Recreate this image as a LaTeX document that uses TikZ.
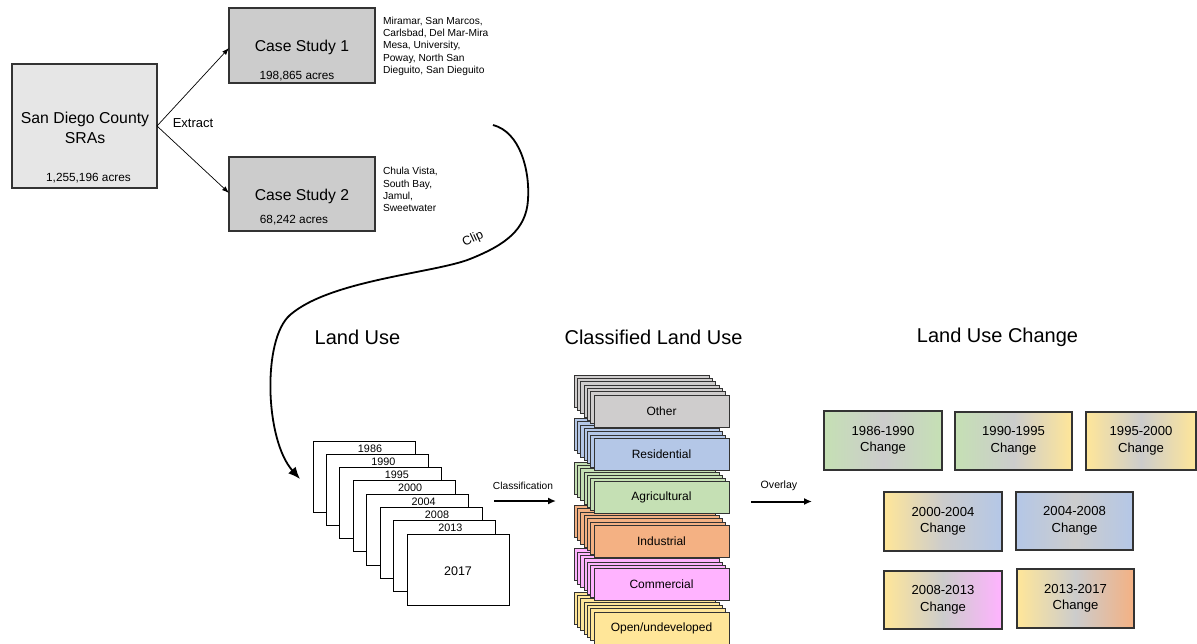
\documentclass[tikz,border=0pt]{standalone}
\usepackage{fontspec}
\setmainfont{Liberation Sans}
\usetikzlibrary{arrows.meta}
\definecolor{cOther}{HTML}{CFCDCD}
\definecolor{cRes}{HTML}{B4C7E7}
\definecolor{cAgr}{HTML}{C5E0B4}
\definecolor{cInd}{HTML}{F4B183}
\definecolor{cCom}{HTML}{FFB3FF}
\definecolor{cOpen}{HTML}{FFE699}
\definecolor{cMid}{HTML}{CCCCCC}
\definecolor{cSDC}{HTML}{E6E6E6}
\definecolor{cCase}{HTML}{CCCCCC}
\definecolor{cEdge}{HTML}{333333}
\newcommand{\fsz}[2]{\fontsize{#1pt}{#2pt}\selectfont}
\newcommand{\clsgroup}[4]{%
  \pgfmathsetmacro{\clsTop}{395+43.4*#1}%
  \foreach \j in {6,5,4,3,2,1}{%
    \node[clsback, fill=#2] (#3-back\j) at ({594-3.33*\j},{\clsTop-3.33*\j}) {};
  }%
  \node[clsfront, fill=#2] (#3) at (594,\clsTop) {#4};
}
\begin{document}
\begin{tikzpicture}[x=1pt,y=-1pt,
  every node/.style={inner sep=0pt, outer sep=0pt},
  topbox/.style={draw=cEdge, line width=1.2pt, rectangle},
  sidetxt/.style={anchor=north west, align=left, font=\fsz{10.2}{12.3}},
  acres/.style={font=\fsz{11.8}{14}},
  heading/.style={font=\fsz{20}{24}},
  yearbox/.style={draw=black, line width=1pt, fill=white, minimum width=102pt, minimum height=71pt, anchor=north west},
  yeartxt/.style={font=\fsz{10.8}{12}},
  clsback/.style={draw=cEdge, line width=0.6pt, minimum width=135pt, minimum height=32pt, anchor=north west},
  clsfront/.style={draw=cEdge, line width=1pt, minimum width=135pt, minimum height=32pt, anchor=north west, font=\fsz{12}{14}},
  chg/.style={draw=cEdge, line width=1.2pt, anchor=north west, align=center, font=\fsz{13.1}{16.5}},
  thinarrow/.style={line width=0.7pt, -{Latex[length=7pt,width=5pt]}},
  bigarrow/.style={line width=2pt, -{Latex[length=8pt,width=7pt]}},
  smalltxt/.style={font=\fsz{10.2}{12}}
]
\useasboundingbox (0,0) rectangle (1197,643);

% top part
\node[topbox, fill=cSDC, minimum width=145pt, minimum height=124pt] (sdc) at (84.5,126) {};
\node[align=center, font=\fsz{15.8}{20}] (sdctxt) at (85,128) {San Diego County\\SRAs};
\node[acres] (sdcacres) at (88.5,178) {1,255,196 acres};

\node[topbox, fill=cCase, minimum width=146pt, minimum height=75pt] (cs1) at (302,45.5) {};
\node[font=\fsz{15.7}{18}] (cs1txt) at (302,47.5) {Case Study 1};
\node[acres] (cs1acres) at (297,76) {198,865 acres};

\node[topbox, fill=cCase, minimum width=146pt, minimum height=74pt] (cs2) at (302,194) {};
\node[font=\fsz{15.7}{18}] (cs2txt) at (302,196.5) {Case Study 2};
\node[acres] (cs2acres) at (294,220.5) {68,242 acres};

\node[sidetxt] (cs1list) at (383,17) {Miramar, San Marcos,\\Carlsbad, Del Mar-Mira\\Mesa, University,\\Poway, North San\\Dieguito, San Dieguito};
\node[sidetxt] (cs2list) at (383,167.5) {Chula Vista,\\South Bay,\\Jamul,\\Sweetwater};

\draw[thinarrow] (sdc.east) -- (cs1.west |- 0,48);
\draw[thinarrow] (sdc.east) -- (cs2.west |- 0,193);
\node[font=\fsz{13}{15}] (extract) at (193,123) {Extract};

% clip curve
\coordinate (clipstart) at (493,125);
\coordinate (clipend) at (300,479);
\draw[line width=1.8pt, -{Latex[length=12pt,width=10pt]}] (clipstart)
  .. controls (520,132) and (530,170) .. (528,200)
  .. controls (526,230) and (505,245) .. (470,259)
  .. controls (435,273) and (330,280) .. (290,315)
  .. controls (262,339.5) and (265,440) .. (clipend);
\node[font=\fsz{12.5}{14}, rotate=25] (cliplabel) at (473,239) {Clip};

% headings
\node[heading] (h1) at (357.5,337) {Land Use};
\node[heading] (h2) at (653.5,337) {Classified Land Use};
\node[heading] (h3) at (997.5,337) {Land Use Change};

% land use stack
\foreach \k/\yr in {0/1986,1/1990,2/1995,3/2000,4/2004,5/2008,6/2013}{
  \node[yearbox] (lu\k) at ({313+13.4*\k},{441+13.3*\k}) {};
  \node[yeartxt] (lu\k-lab) at ({313+13.4*\k+57},{441+13.3*\k+7.3}) {\yr};
}
\node[yearbox] (lu7) at (407,534) {};
\node[font=\fsz{12.5}{14}] (lu7-lab) at (458,571) {2017};

\node[smalltxt] (classlab) at (523,486) {Classification};
\coordinate (classA) at (494,501);
\coordinate (classB) at (556,501);
\draw[bigarrow] (classA) -- (classB);

% classified stack
\clsgroup{5}{cOpen}{open}{Open/undeveloped}
\clsgroup{4}{cCom}{com}{Commercial}
\clsgroup{3}{cInd}{ind}{Industrial}
\clsgroup{2}{cAgr}{agr}{Agricultural}
\clsgroup{1}{cRes}{res}{Residential}
\clsgroup{0}{cOther}{other}{Other}

\node[font=\fsz{10.6}{12}] (overlaylab) at (779,485.5) {Overlay};
\coordinate (ovA) at (751,501.5);
\coordinate (ovB) at (812,501.5);
\draw[bigarrow] (ovA) -- (ovB);

% change boxes
\node[chg, minimum width=118pt, minimum height=59pt, left color=cAgr, right color=cAgr, middle color=cMid] (c1) at (824,411) {1986-1990\\Change};
\node[chg, minimum width=117pt, minimum height=58pt, left color=cAgr, right color=cOpen, middle color=cMid] (c2) at (955,412) {1990-1995\\Change};
\node[chg, minimum width=110pt, minimum height=58pt, left color=cOpen, right color=cOpen, middle color=cMid] (c3) at (1086,412) {1995-2000\\Change};
\node[chg, minimum width=118pt, minimum height=59pt, left color=cOpen, right color=cRes, middle color=cMid] (c4) at (884,492) {2000-2004\\Change};
\node[chg, minimum width=117pt, minimum height=58pt, left color=cRes, right color=cRes, middle color=cMid] (c5) at (1016,492) {2004-2008\\Change};
\node[chg, minimum width=118pt, minimum height=58pt, left color=cOpen, right color=cCom, middle color=cMid] (c6) at (884,571) {2008-2013\\Change};
\node[chg, minimum width=117pt, minimum height=59pt, left color=cOpen, right color=cInd, middle color=cMid] (c7) at (1017,569) {2013-2017\\Change};
\end{tikzpicture}
\end{document}
